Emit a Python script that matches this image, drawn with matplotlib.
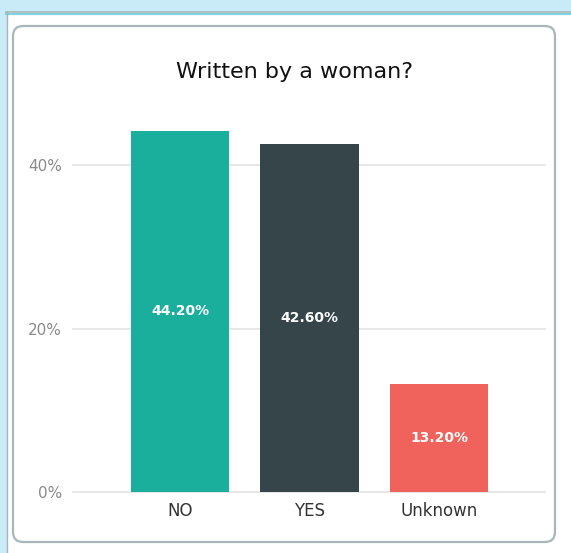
import matplotlib
matplotlib.use("Agg")
import matplotlib.pyplot as plt
from matplotlib.patches import Rectangle, FancyBboxPatch

categories = ["NO", "YES", "Unknown"]
shares = [44.20, 42.60, 13.20]
bar_colors = ["#1AAE9C", "#36454A", "#F0625C"]
y_ticks = [0, 20, 40]
y_tick_labels = ["0%", "20%", "40%"]
title = "Written by a woman?"

W, H = 571, 553
fig = plt.figure(figsize=(W / 100, H / 100), dpi=100)
fig.patch.set_facecolor("white")

# Frame layer in pixel coordinates (y grows downward)
bg = fig.add_axes([0, 0, 1, 1], zorder=0)
bg.set_xlim(0, W)
bg.set_ylim(H, 0)
bg.axis("off")
blue = "#C9EBF7"
bg.add_patch(Rectangle((0, 0), W, 11.5, facecolor=blue, edgecolor="none"))
bg.add_patch(Rectangle((0, 0), 6.5, H, facecolor=blue, edgecolor="none"))
bg.plot([6, W], [12, 12], color="#A9B4B8", lw=1.2)
bg.plot([6, W], [14, 14], color="#7FD2DE", lw=1.6)
bg.plot([7, 7], [12, H], color="#A9B4B8", lw=1.0)
bg.add_patch(FancyBboxPatch((13, 26), 542, 516,
                            boxstyle="round,pad=0,rounding_size=10",
                            facecolor="white", edgecolor="#A7B6BB", lw=1.6))

# Chart area
x0, x1 = 73, 545
ytop, ybot = 120, 492
ax = fig.add_axes([x0 / W, (H - ybot) / H, (x1 - x0) / W, (ybot - ytop) / H], zorder=1)
ax.patch.set_alpha(0)
px_per_unit = 129.5
center0 = 180
ax.set_xlim((x0 - center0) / px_per_unit, (x1 - center0) / px_per_unit)
ax.set_ylim(0, (ybot - ytop) / 163.5 * 20)
ax.set_clip_on(False)

xs = list(range(len(categories)))
ax.bar(xs, shares, width=0.76, color=bar_colors, zorder=2)
for x, v in zip(xs, shares):
    ax.text(x, v / 2, f"{v:.2f}%", ha="center", va="center", color="white",
            fontsize=10, fontweight="bold", family="DejaVu Sans", zorder=3)

ax.set_yticks(y_ticks)
ax.set_yticklabels(y_tick_labels, color="#8A8A8A", fontsize=11)
ax.yaxis.grid(True, color="#E3E3E3", lw=1.2, zorder=0)
for gl in ax.get_ygridlines():
    gl.set_clip_on(False)
ax.set_axisbelow(True)
ax.set_xticks(xs)
ax.set_xticklabels(categories, color="#333333", fontsize=12)
ax.tick_params(axis="both", length=0)
ax.tick_params(axis="y", pad=8)
ax.tick_params(axis="x", pad=7)
for s in ax.spines.values():
    s.set_visible(False)

fig.text(295 / W, 1 - 72 / H, title, ha="center", va="center",
         fontsize=16, color="#111111")

fig.savefig("out.png", dpi=100)
